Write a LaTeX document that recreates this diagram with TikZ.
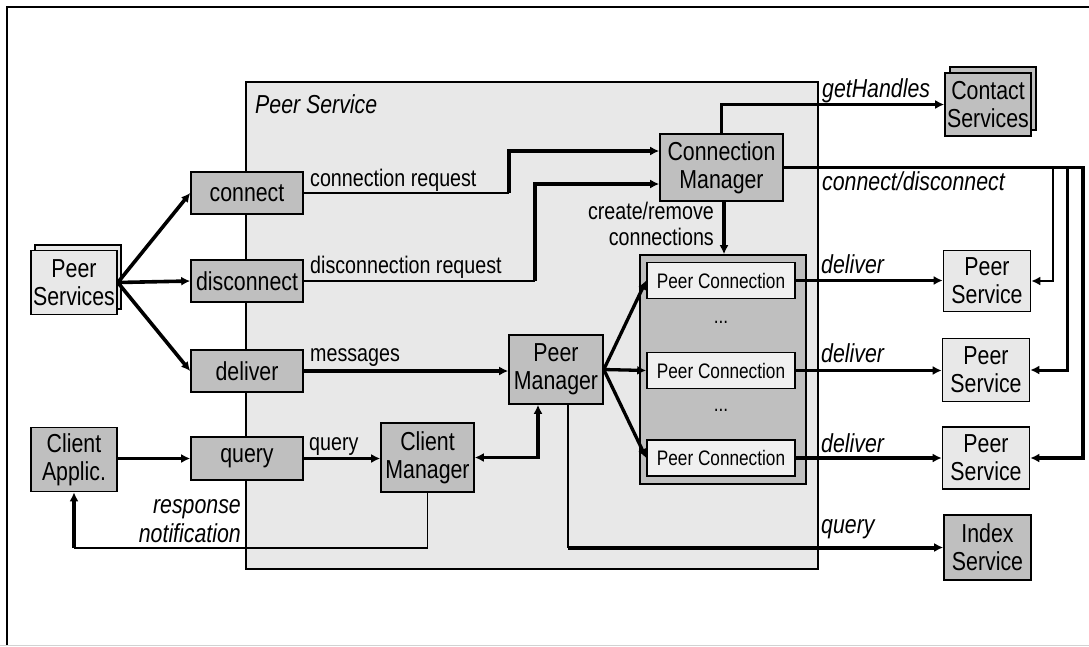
\documentclass[tikz,border=0pt]{standalone}
\usepackage{fontspec}
\setmainfont{Liberation Sans}[FakeStretch=0.82]
\usetikzlibrary{arrows.meta,calc}
\definecolor{boxgray}{gray}{0.75}
\definecolor{boxlight}{gray}{0.91}
\definecolor{pclight}{gray}{0.94}
\newcommand{\boxfont}{\fontsize{26}{28}\selectfont}
\newcommand{\labfont}{\fontsize{24}{26}\selectfont}
\newcommand{\itlabfont}{\fontsize{26}{28}\selectfont\itshape}
\newcommand{\pcfont}{\fontsize{21}{23}\selectfont}
\begin{document}
\begin{tikzpicture}[x=1pt,y=-1pt,
  dbox/.style={draw, line width=1.6pt, fill=boxgray, inner sep=0pt, align=center, font=\boxfont},
  lbox/.style={draw, line width=1.6pt, fill=boxlight, inner sep=0pt, align=center, font=\boxfont},
  pcbox/.style={draw, line width=1.6pt, fill=pclight, inner sep=0pt, align=center, font=\pcfont, minimum width=148pt, minimum height=36pt},
  lab/.style={inner sep=0pt, font=\labfont},
  itlab/.style={inner sep=0pt, font=\itlabfont},
  tip/.style={-{Latex[length=9pt,width=9pt]}},
  conn/.style={line width=3.3pt, tip},
  thinline/.style={line width=1.5pt},
]
\useasboundingbox (0,0) rectangle (1089,646);
% outer frame
\draw[line width=2.5pt] (7,646) -- (7,7) -- (1089,7);
\draw[line width=1pt, gray!35] (0,645.5) -- (1089,645.5);

% Peer Service region
\node[draw, line width=1.6pt, fill=boxlight, minimum width=572pt, minimum height=487pt, inner sep=0pt] (region) at (532,325.5) {};
\node[itlab, anchor=base west] (regionlab) at (255,113) {Peer Service};

% left boxes
\node[dbox, minimum width=112pt, minimum height=42pt] (connect) at (247,193) {connect};
\node[dbox, minimum width=112pt, minimum height=42pt] (disconnect) at (247,281) {disconnect};
\node[dbox, minimum width=112pt, minimum height=42pt] (deliver) at (247,371) {deliver};
\node[dbox, minimum width=112pt, minimum height=43pt] (query) at (247,458.5) {query};

% Peer Services (stacked)
\node[lbox, minimum width=86pt, minimum height=64pt] (psb) at (78,277) {};
\node[lbox, minimum width=86pt, minimum height=64pt] (psf) at (74,282.5) {Peer\\Services};

% Client Applic.
\node[dbox, minimum width=86pt, minimum height=64pt] (ca) at (74,459.5) {Client\\Applic.};

% managers
\node[dbox, minimum width=93pt, minimum height=69pt] (clm) at (427.5,457.5) {Client\\Manager};
\node[dbox, minimum width=94pt, minimum height=69pt] (pm) at (556,369.5) {Peer\\Manager};
\node[dbox, minimum width=123pt, minimum height=67pt] (cm) at (721.5,167.5) {Connection\\Manager};

% peer connection group
\node[dbox, minimum width=166pt, minimum height=229pt] (pcg) at (723,369.5) {};
\node[pcbox] (pc1) at (721,280.5) {Peer Connection};
\node[pcbox] (pc2) at (721,370.5) {Peer Connection};
\node[pcbox] (pc3) at (721,458) {Peer Connection};
\node[inner sep=0pt, font=\pcfont] (dots1) at (721,322) {...};
\node[inner sep=0pt, font=\pcfont] (dots2) at (721,410) {...};

% right side
\node[dbox, minimum width=86pt, minimum height=63pt] (csb) at (993,98.5) {};
\node[dbox, minimum width=86pt, minimum height=63pt] (csf) at (988,104.5) {Contact\\Services};
\node[lbox, minimum width=87pt, minimum height=61pt] (ps1) at (987,281) {Peer\\Service};
\node[lbox, minimum width=87pt, minimum height=63pt] (ps2) at (986,370) {Peer\\Service};
\node[lbox, minimum width=87pt, minimum height=62pt] (ps3) at (986,458) {Peer\\Service};
\node[dbox, minimum width=87pt, minimum height=65pt] (idx) at (987.5,547.5) {Index\\Service};

% Peer Services -> entry points
\draw[line width=3.6pt, tip] (psf.east) -- (connect.west);
\draw[line width=3.6pt, tip] (psf.east) -- (disconnect.west);
\draw[line width=3.6pt, tip] (psf.east) -- (deliver.west);

% connection request
\coordinate (cr) at (509,193);
\draw[thinline] (connect.east) -- (cr);
\draw[conn] (cr) |- ($(cm.west)+(0,-16.5)$);
\node[lab, anchor=base west] (lcr) at (310,186) {connection request};

% disconnection request
\coordinate (dr) at (535,281);
\draw[thinline] (disconnect.east) -- (dr);
\draw[conn] (dr) |- ($(cm.west)+(0,16.5)$);
\node[lab, anchor=base west] (ldr) at (310,273) {disconnection request};

% messages
\draw[conn] (deliver.east) -- (deliver.east -| pm.west);
\node[lab, anchor=base west] (lmsg) at (310,361) {messages};

% client applic -> query -> client manager
\draw[conn] (query.west -| ca.east) -- (query.west);
\draw[conn] (query.east) -- (query.east -| clm.west);
\node[lab, anchor=base west] (lq) at (309,450) {query};

% client manager <-> peer manager
\coordinate (cp) at (538,0);
\draw[line width=3.3pt, {Latex[length=9pt,width=9pt]}-{Latex[length=9pt,width=9pt]}] (clm.east) -| (cp |- pm.south);

% response notification
\coordinate (rn) at (74,548);
\draw[thinline] (clm.south) |- (rn);
\draw[conn] (rn) -- (rn |- ca.south);
\node[itlab, anchor=base east] (lresp) at (241,513) {response};
\node[itlab, anchor=base east] (lnotif) at (241,542) {notification};

% peer manager -> peer connections
\draw[conn] (pm.east) -- (pc1.west);
\draw[conn] (pm.east) -- (pc2.west);
\draw[conn] (pm.east) -- (pc3.west);

% peer connections -> peer services
\draw[line width=3.8pt, tip] (pc1.east) -- (pc1.east -| ps1.west);
\draw[line width=3.8pt, tip] (pc2.east) -- (pc2.east -| ps2.west);
\draw[line width=3.8pt, tip] (pc3.east) -- (pc3.east -| ps3.west);
\node[itlab, anchor=base west] (ld1) at (821,273) {deliver};
\node[itlab, anchor=base west] (ld2) at (821,362) {deliver};
\node[itlab, anchor=base west] (ld3) at (821,452) {deliver};

% peer manager -> index service
\coordinate (pq) at (568,547.5);
\draw[line width=2.2pt] (pm.south -| pq) -- (pq);
\draw[line width=4pt, tip] (pq) -- (idx.west);
\node[itlab, anchor=base west] (lquery) at (821,533) {query};

% create/remove connections
\draw[conn] (cm.south -| 724,0) -- (pcg.north -| 724,0);
\node[lab, anchor=base east] (lcr1) at (714,219) {create/remove};
\node[lab, anchor=base east] (lcr2) at (714,245) {connections};

% getHandles
\draw[line width=2.4pt, tip] (cm.north) |- (csf.west);
\node[itlab, anchor=base west] (lgh) at (822,97) {getHandles};

% connect/disconnect
\coordinate (v1) at (1053,0);
\coordinate (v2) at (1067,0);
\coordinate (v3) at (1083,0);
\draw[line width=1.8pt, tip] (cm.east) -| (v1 |- ps1.east) -- (ps1.east);
\draw[line width=3pt, tip] (cm.east) -| (v2 |- ps2.east) -- (ps2.east);
\draw[line width=3.4pt, tip] (cm.east) -| (v3 |- ps3.east) -- (ps3.east);
\node[itlab, anchor=base west] (lcd) at (822,190) {connect/disconnect};
\end{tikzpicture}
\end{document}
